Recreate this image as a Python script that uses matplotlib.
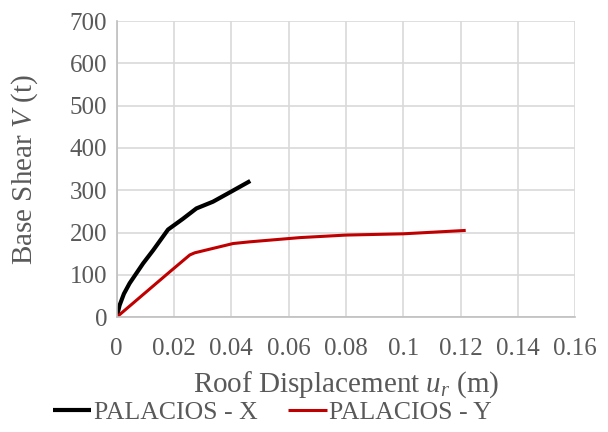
import matplotlib.pyplot as plt
from matplotlib.ticker import FuncFormatter, MultipleLocator

# Pushover curves (roof displacement in m, base shear in t)
x_disp = [0, 0.001, 0.0025, 0.0045, 0.007, 0.0092, 0.0127, 0.0179, 0.0230, 0.0278, 0.0336, 0.0400, 0.0466]
x_shear = [0, 28, 55, 80, 105, 127, 158, 207, 232, 257, 273, 297, 322]

y_disp = [0, 0.0185, 0.0255, 0.0272, 0.0406, 0.0464, 0.0639, 0.080, 0.100, 0.1218]
y_shear = [0, 107, 147, 152, 174, 178, 188, 194, 197, 205]

plt.rcParams['font.family'] = ['Liberation Serif', 'DejaVu Serif']
plt.rcParams['mathtext.fontset'] = 'custom'
plt.rcParams['mathtext.it'] = 'Liberation Serif:italic'
plt.rcParams['mathtext.rm'] = 'Liberation Serif'
grey = '#595959'

fig = plt.figure(figsize=(6.08, 4.32), dpi=100)
ax = fig.add_axes([0.192, 0.266, 0.754, 0.685])

ax.plot(x_disp, x_shear, color='black', lw=3, label='PALACIOS - X', solid_capstyle='butt')
ax.plot(y_disp, y_shear, color='#c00000', lw=2.2, label='PALACIOS - Y', solid_capstyle='butt')

ax.set_xlim(0, 0.16)
ax.set_ylim(0, 700)
ax.xaxis.set_major_locator(MultipleLocator(0.02))
ax.yaxis.set_major_locator(MultipleLocator(100))
ax.xaxis.set_major_formatter(FuncFormatter(lambda v, p: '%g' % round(v, 2)))

ax.grid(True, color='#d9d9d9', lw=1.2)
ax.set_axisbelow(True)
for s in ['top', 'right']:
    ax.spines[s].set_visible(False)
for s in ['left', 'bottom']:
    ax.spines[s].set_color('#bfbfbf')
    ax.spines[s].set_linewidth(1.2)
ax.tick_params(length=0, labelsize=18, colors=grey)
ax.tick_params(axis='x', pad=15)
ax.tick_params(axis='y', pad=7)

ax.set_xlabel(r'Roof Displacement $u_r$ (m)', fontsize=21, color=grey, labelpad=7)
ax.set_ylabel(r'Base Shear $V$ (t)', fontsize=21, color=grey)
ax.yaxis.set_label_coords(-0.168, 0.5)

leg = fig.legend(loc='lower center', ncol=2, frameon=False, fontsize=18.5,
                 bbox_to_anchor=(0.448, -0.035), handlelength=1.5, handletextpad=0.1,
                 columnspacing=1.2)
for t in leg.get_texts():
    t.set_color(grey)

fig.savefig('out.png', dpi=100)
